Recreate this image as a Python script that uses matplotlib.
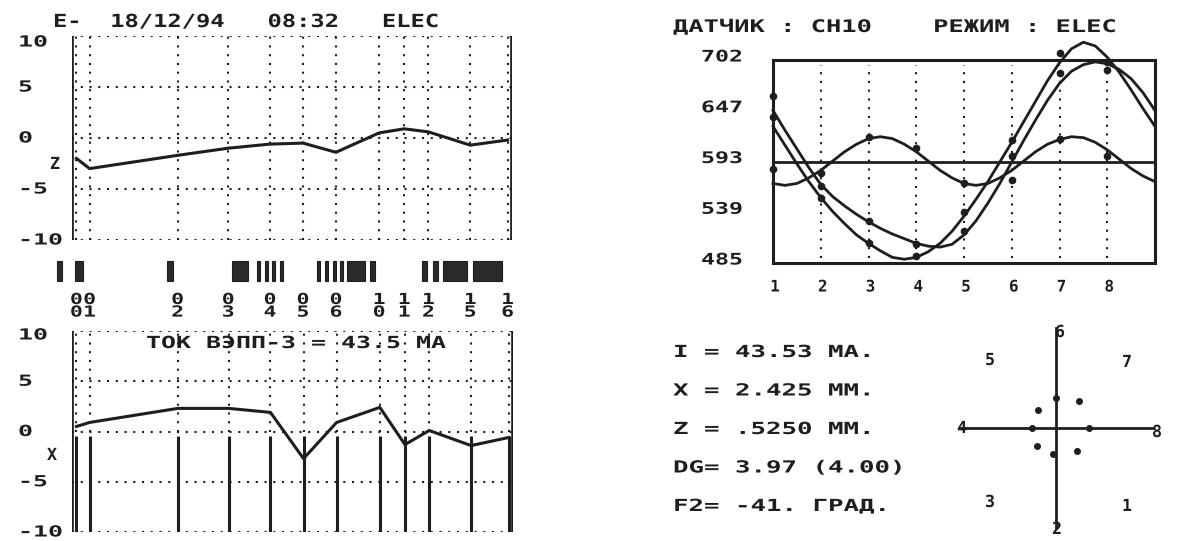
import matplotlib
matplotlib.use("Agg")
import matplotlib.pyplot as plt
from matplotlib import patheffects
from matplotlib.transforms import Affine2D, IdentityTransform

W, H, DPI = 1186, 541, 100
INK = "#1e1e1e"
MONO = "DejaVu Sans Mono"

# ------------------------------------------------------------------ data
title_left = "E-  18/12/94   08:32   ELEC"
title_right = "ДАТЧИК : CH10    РЕЖИМ : ELEC"

pickup_labels = ["00", "01", "02", "03", "04", "05", "06", "10", "11", "12", "15", "16"]
pickup_pos = [1.0, 4.0, 24.0, 35.5, 45.0, 52.5, 60.0, 69.8, 75.5, 81.0, 90.5, 99.0]
orbit_z = [-2.0, -3.0, -1.7, -1.0, -0.6, -0.5, -1.4, 0.5, 0.9, 0.6, -0.7, -0.2]
orbit_x = [0.5, 0.9, 2.3, 2.3, 1.9, -2.7, 0.9, 2.4, -1.3, 0.1, -1.4, -0.6]
panel_ticks = [10, 5, 0, -5, -10]
panel_ticklabels = ["10", "5", "0", "-5", "-10"]

magnet_start = [-3.4, 0.7, 21.6, 36.4, 42.0, 43.9, 45.4, 47.3, 55.6, 57.5, 59.4,
                60.9, 62.5, 67.7, 79.5, 82.0, 84.4, 91.2]
magnet_end = [-2.3, 2.5, 23.0, 40.0, 42.7, 44.6, 46.1, 48.0, 56.3, 58.2, 60.1,
              61.6, 66.6, 68.9, 80.6, 83.2, 89.7, 97.7]

beam_current_text = "ТОК ВЭПП-3 = 43.5 МА"

electrode = [1, 2, 3, 4, 5, 6, 7, 8]
meas_a = [641, 554, 506, 493, 539, 617, 710, 700]
meas_b = [663, 567, 530, 505, 519, 599, 688, 691]
meas_c = [585, 581, 620, 608, 570, 574, 618, 599]

fit_x = [1.0, 1.25, 1.5, 1.75, 2.0, 2.25, 2.5, 2.75, 3.0, 3.25, 3.5, 3.75, 4.0,
         4.25, 4.5, 4.75, 5.0, 5.25, 5.5, 5.75, 6.0, 6.25, 6.5, 6.75, 7.0, 7.25,
         7.5, 7.75, 8.0, 8.25, 8.5, 8.75, 9.0]
fit_a = [631, 611, 591, 572, 555, 540, 527, 515, 506, 498, 491, 489, 491, 497, 506,
         519, 535, 553, 572, 593, 614, 636, 658, 680, 699, 714, 721, 717, 705, 689,
         670, 650, 631]
fit_b = [648, 627, 607, 587, 569, 556, 546, 537, 529, 522, 516, 511, 506, 503, 502,
         505, 515, 530, 549, 570, 593, 616, 638, 659, 677, 690, 697, 700, 698, 692,
         682, 667, 648]
fit_c = [570, 568, 570, 576, 584, 594, 604, 612, 618, 620, 618, 612, 604, 594, 584,
         576, 570, 568, 570, 576, 584, 594, 604, 612, 617, 620, 619, 614, 606, 596,
         586, 578, 572]
signal_mean = 593
signal_ticks = [485, 539.25, 593.5, 647.75, 702]
signal_ticklabels = ["485", "539", "593", "647", "702"]

info_lines = ["I = 43.53 МА.", "X = 2.425 ММ.", "Z = .5250 ММ.",
              "DG= 3.97 (4.00)", "F2= -41. ГРАД."]

cross_labels = ["1", "2", "3", "4", "5", "6", "7", "8"]
cross_dx = [20.7, -2.7, -19.3, -24.3, -17.7, 0.0, 23.3, 33.3]
cross_dy = [-23.3, -26.0, -18.3, 0.0, 18.3, 30.0, 26.7, 0.0]

# ------------------------------------------------------------------ helpers
fig = plt.figure(figsize=(W / DPI, H / DPI), dpi=DPI)
fig.patch.set_facecolor("white")


def box(l, t, r, b):
    return [l / W, 1 - b / H, (r - l) / W, (b - t) / H]


class HStretch(patheffects.AbstractPathEffect):
    def __init__(self, sx):
        super().__init__()
        self._sx = sx

    def draw_path(self, renderer, gc, tpath, affine, rgbFace=None):
        renderer.draw_path(gc, tpath, Affine2D().scale(self._sx, 1.0) + affine, rgbFace)


def stext(xd, yd, s, fs, pitch=None, ha="left", va="center"):
    """text at display coords; pitch = character pitch in px"""
    em = fs * DPI / 72.0
    adv = 0.602 * em
    sx = pitch / adv if pitch else 1.0
    w = len(s) * adv * sx
    x0 = xd - {"left": 0.0, "center": w / 2.0, "right": w}[ha]
    fig.text(x0, yd, s, transform=IdentityTransform(), fontsize=fs, family=MONO,
             weight="bold", color=INK, ha="left", va=va,
             path_effects=[HStretch(sx)])


def ptext(xp, yp, s, fs, pitch=None, ha="left"):
    stext(xp, H - yp, s, fs, pitch, ha)


DOT = dict(ls=(0, (1, 3.2)), lw=1.5, color=INK)

# ------------------------------------------------------------------ left top (Z)
axz = fig.add_axes(box(72, 36, 512, 240))
axz.set_xlim(0, 100)
axz.set_ylim(-10, 10)
axz.set_axis_off()
for v in panel_ticks:
    axz.axhline(v, **DOT)
for p in pickup_pos:
    axz.axvline(p, **DOT)
axz.axvline(0, color=INK, lw=2.6)
axz.axvline(100, color=INK, lw=2.6)
axz.plot(pickup_pos, orbit_z, color=INK, lw=2.2, solid_joinstyle="round")
for v, lab in zip(panel_ticks, panel_ticklabels):
    yd = axz.transData.transform((0, v))[1]
    if v == 10:
        yd -= 6
    stext(18, yd, lab, 11, pitch=15)
ptext(55, 164, "Z", 12, ha="center")
ptext(53, 22, title_left, 13, pitch=14.3)

# ------------------------------------------------------------------ magnet strip
axs = fig.add_axes(box(72, 256, 512, 322))
axs.set_xlim(0, 100)
axs.set_ylim(322, 256)
axs.set_axis_off()
axs.bar(magnet_start, 20, width=[e - s for s, e in zip(magnet_start, magnet_end)],
        bottom=261, align="edge", color="#2a2a2a", edgecolor=INK,
        lw=0.8, clip_on=False)
for p, lab in zip(pickup_pos, pickup_labels):
    xd, yd = axs.transData.transform((p, 292))
    em = 11 * DPI / 72.0
    fig.text(xd - 0.602 * em * 1.4 / 2, yd, lab[0] + "\n" + lab[1],
             transform=IdentityTransform(), ha="left", va="top", fontsize=11,
             family=MONO, weight="bold", color=INK, linespacing=0.8,
             path_effects=[HStretch(1.4)])

# ------------------------------------------------------------------ left bottom (X)
axx = fig.add_axes(box(72, 331, 513, 532))
axx.set_xlim(0, 100)
axx.set_ylim(-10, 10)
axx.set_axis_off()
for v in panel_ticks:
    axx.axhline(v, **DOT)
axx.vlines(pickup_pos, 0, 10, **DOT)
axx.vlines(pickup_pos, -10, -0.4, color=INK, lw=2.2)
axx.axvline(0, color=INK, lw=2.6)
axx.axvline(100, color=INK, lw=2.6)
axx.plot(pickup_pos, orbit_x, color=INK, lw=2.2, solid_joinstyle="round")
for v, lab in zip(panel_ticks, panel_ticklabels):
    yd = axx.transData.transform((0, v))[1]
    if v == 10:
        yd -= 4
    stext(18, yd, lab, 11, pitch=15)
ptext(52, 455, "X", 12, ha="center")
ptext(296, 343, beam_current_text, 12, pitch=15, ha="center")

# ------------------------------------------------------------------ right signals
axr = fig.add_axes(box(773, 60, 1155, 263))
axr.set_xlim(1, 9)
axr.set_ylim(485, 702)
axr.set_xticks([])
axr.set_yticks([])
for sp in axr.spines.values():
    sp.set_linewidth(2.2)
    sp.set_color(INK)
axr.vlines(electrode[1:], 490, 697, **DOT)
axr.axhline(signal_mean, color=INK, lw=2.0)
for fy in (fit_a, fit_b, fit_c):
    axr.plot(fit_x, fy, color=INK, lw=2.0, clip_on=False)
for my in (meas_a, meas_b, meas_c):
    axr.plot(electrode, my, "o", color=INK, ms=4.5, clip_on=False)
for v, lab in zip(signal_ticks, signal_ticklabels):
    yd = axr.transData.transform((1, v))[1] + 3
    stext(743, yd, lab, 11.5, pitch=14, ha="right")
for e in electrode:
    xd = axr.transData.transform((e, 485))[0]
    stext(xd + 2, H - 287, str(e), 11.5, ha="center")
ptext(673, 27, title_right, 12.5, pitch=15.3)

# ------------------------------------------------------------------ info block
for i, line in enumerate(info_lines):
    ptext(673, 352 + i * 38.5, line, 12, pitch=15.5)

# ------------------------------------------------------------------ cross
axc = fig.add_axes(box(954, 326, 1158, 530))
axc.set_xlim(-102, 102)
axc.set_ylim(-102, 102)
axc.set_axis_off()
axc.plot([-96, 97], [0, 0], color=INK, lw=2.0)
axc.plot([0, 0], [-101, 100], color=INK, lw=2.0)
axc.plot(cross_dx, cross_dy, "o", color=INK, ms=4, ls="none")
label_dir = {"1": (71, -78), "2": (1, -101), "3": (-66, -74), "4": (-94, 0),
             "5": (-66, 68), "6": (4, 96), "7": (71, 66), "8": (101, -4)}
for lab in cross_labels:
    dx, dy = label_dir[lab]
    xd, yd = axc.transData.transform((dx, dy))
    stext(xd, yd, lab, 12, ha="center")

fig.savefig("out.png", dpi=DPI, facecolor="white")
